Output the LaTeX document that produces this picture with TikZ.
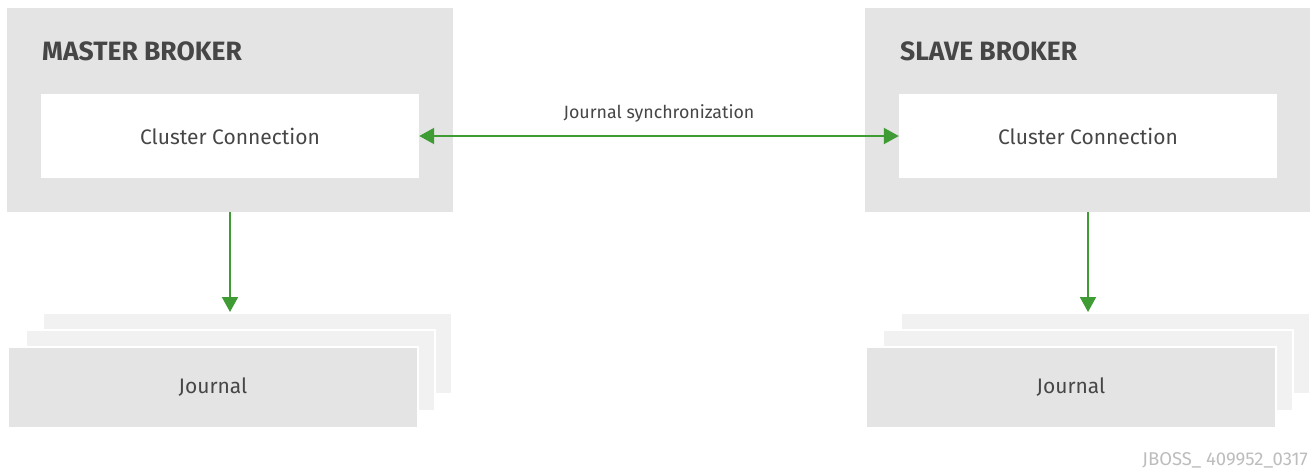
\documentclass[tikz,border=0pt]{standalone}
\usepackage{fontspec}
\setmainfont{Fira Sans}
\usetikzlibrary{arrows.meta}
\definecolor{boxgray}{HTML}{E4E4E4}
\definecolor{lightgray}{HTML}{F1F1F1}
\definecolor{txt}{HTML}{464646}
\definecolor{arrowgreen}{HTML}{3F9C35}
\definecolor{footgray}{HTML}{BDBDBD}
\begin{document}
\begin{tikzpicture}[x=1pt,y=-1pt,
  outerbox/.style={fill=boxgray,draw=none},
  innerbox/.style={fill=white,draw=none},
  backjournal/.style={fill=lightgray,draw=white,line width=1.5pt},
  frontjournal/.style={fill=boxgray,draw=white,line width=1.5pt},
  titletext/.style={font=\fontsize{26.5}{30}\selectfont\bfseries,text=txt,anchor=base west,inner sep=0},
  label/.style={font=\fontsize{21}{24}\selectfont,text=txt},
  flow/.style={draw=arrowgreen,line width=2pt,-{Triangle[length=15pt,width=16pt]}},
  flowboth/.style={draw=arrowgreen,line width=2pt,{Triangle[length=15pt,width=16pt]}-{Triangle[length=15pt,width=16pt]}}
]
\useasboundingbox (0,0) rectangle (1313,472);
\fill[white] (0,0) rectangle (1313,472);

% Master broker
\path[outerbox] (7,8) rectangle (453,212);
\coordinate (mastertop) at (230,212);
\node[titletext] (mtitle) at (42,60) {MASTER BROKER};
\path[innerbox] (41,94) rectangle (419,178);
\node[label,minimum width=378pt,minimum height=84pt,inner sep=0] (mcc) at (230,136) {Cluster Connection};

% Slave broker
\path[outerbox] (865,8) rectangle (1310,212);
\node[titletext] (stitle) at (900,60) {SLAVE BROKER};
\path[innerbox] (899,94) rectangle (1277,178);
\node[label,minimum width=378pt,minimum height=84pt,inner sep=0] (scc) at (1088,136) {Cluster Connection};

% Master journals
\path[backjournal] (43,313) rectangle (452,394);
\path[backjournal] (26,330) rectangle (435,411);
\path[frontjournal] (8,347) rectangle (418,428);
\node[label,minimum width=410pt,minimum height=81pt,inner sep=0] (mj) at (213,387.5) {Journal};
\coordinate (mjtop) at (230,312);

% Slave journals
\path[backjournal] (901,313) rectangle (1310,394);
\path[backjournal] (883,330) rectangle (1293,411);
\path[frontjournal] (866,347) rectangle (1276,428);
\node[label,minimum width=410pt,minimum height=81pt,inner sep=0] (sj) at (1071,387.5) {Journal};
\coordinate (sjtop) at (1088,312);
\coordinate (slavetop) at (1088,212);

% Arrows
\draw[flow] (mastertop) -- (mjtop);
\draw[flow] (slavetop) -- (sjtop);
\draw[flowboth] (mcc.east) -- (scc.west)
  node[midway,above=9pt,font=\fontsize{17.8}{21}\selectfont,text=txt] (sync) {Journal synchronization};

% Footer
\node[font=\fontsize{18.5}{22}\selectfont,text=footgray,anchor=base east,inner sep=0] (foot) at (1308,465) {JBOSS\_ 409952\_0317};
\end{tikzpicture}
\end{document}
